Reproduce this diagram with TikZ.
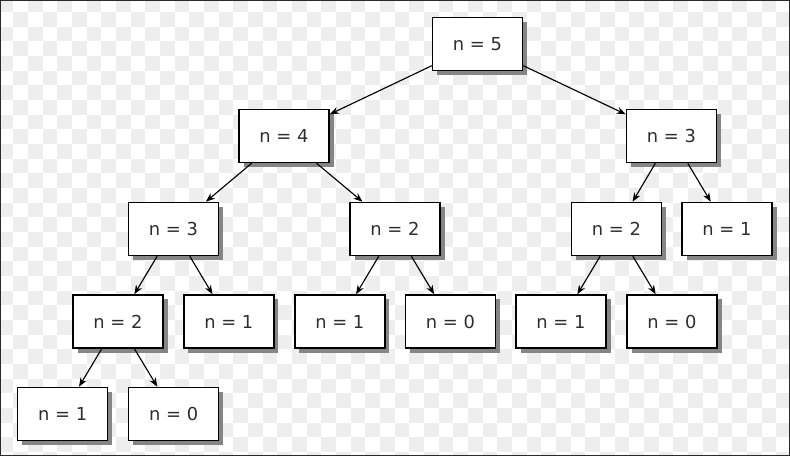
\documentclass[tikz,border=0pt]{standalone}
\usepackage{fontspec}
\setmainfont{DejaVu Sans}
\usetikzlibrary{arrows.meta,shadows}
\definecolor{chk}{HTML}{EEEEEE}
\definecolor{txt}{HTML}{2E2E2E}
\definecolor{shd}{HTML}{858585}
\definecolor{frm}{HTML}{2A2A2A}
\tikzset{
  box/.style={draw=black, line width=1.1pt, fill=white, minimum width=67.5pt, minimum height=39.8pt, inner sep=0pt,
    font=\fontsize{13.4}{15}\selectfont, text=txt,
    drop shadow={shadow xshift=3.4pt, shadow yshift=-3.4pt, fill=shd, opacity=1}},
  link/.style={draw=black, line width=0.85pt, -{Stealth[length=6.8pt,width=5.2pt]}}
}
\begin{document}
\begin{tikzpicture}[x=0.75pt,y=-0.75pt]
\useasboundingbox (0,0) rectangle (790,456);
\begin{scope}
\clip (0,0) rectangle (790,456);
\fill[white] (0,0) rectangle (790,456);
\foreach \i in {0,...,54}{
  \foreach \j in {0,...,31}{
    \pgfmathtruncatemacro{\myparity}{mod(\i+\j,2)}
    \ifnum\myparity=0
      \fill[chk] ({-1.33+14.67*\i},{-2.7+14.67*\j}) rectangle ++(14.67,14.67);
    \fi
  }
}
\end{scope}
\draw[frm, line width=1.4pt] (0.5,0.5) rectangle (789.5,455.5);
% level 0
\node[box] (a) at (477.5,44) {n = 5};
% level 1
\node[box] (b) at (284,136) {n = 4};
\node[box] (c) at (671.5,136) {n = 3};
% level 2
\node[box] (d) at (173.5,229) {n = 3};
\node[box] (e) at (395,229) {n = 2};
\node[box] (f) at (616.5,229) {n = 2};
\node[box] (g) at (727,229) {n = 1};
% level 3
\node[box] (h) at (118,321.5) {n = 2};
\node[box] (i) at (228.8,321.5) {n = 1};
\node[box] (j) at (339.8,321.5) {n = 1};
\node[box] (k) at (450.5,321.5) {n = 0};
\node[box] (l) at (561,321.5) {n = 1};
\node[box] (m) at (672,321.5) {n = 0};
% level 4
\node[box] (n) at (62.7,414) {n = 1};
\node[box] (o) at (173.7,414) {n = 0};
% edges
\draw[link] (a) -- (b);
\draw[link] (a) -- (c);
\draw[link] (b) -- (d);
\draw[link] (b) -- (e);
\draw[link] (c) -- (f);
\draw[link] (c) -- (g);
\draw[link] (d) -- (h);
\draw[link] (d) -- (i);
\draw[link] (e) -- (j);
\draw[link] (e) -- (k);
\draw[link] (f) -- (l);
\draw[link] (f) -- (m);
\draw[link] (h) -- (n);
\draw[link] (h) -- (o);
\end{tikzpicture}
\end{document}
